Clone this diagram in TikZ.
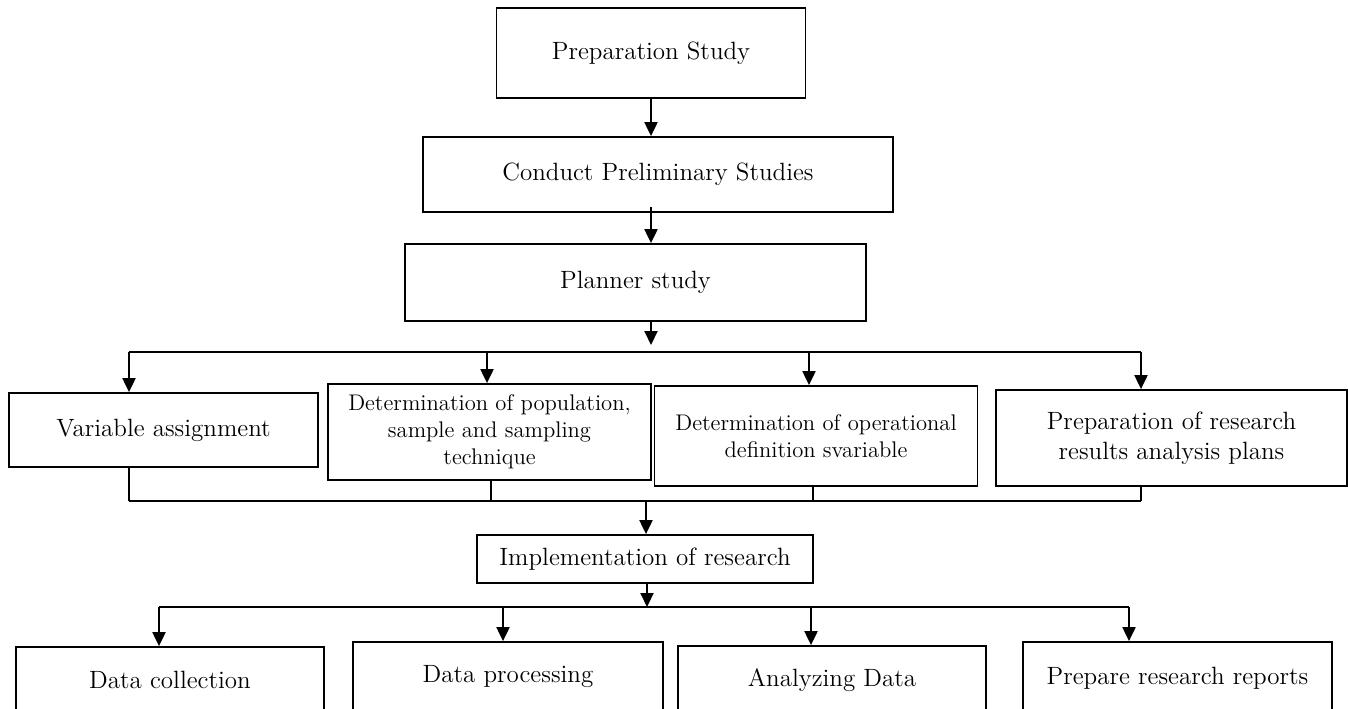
\documentclass[tikz,border=0pt]{standalone}
\usepackage{xcolor}
\usepackage{tikz}
\usetikzlibrary{arrows.meta,positioning,calc}
\tikzset{%
  stepBox/.style={%
    rectangle,
    draw=black,
    line width=0.9pt,
    inner sep=2pt,
    align=center,
    font=\fontsize{12.5}{15}\selectfont
  },
  smallText/.style={%
    font=\fontsize{11.3}{13.5}\selectfont
  },
  arrowLine/.style={%
    -{Triangle[length=7pt,width=6.5pt]},
    line width=1pt
  },
  joinLine/.style={%
    line width=1pt
  }
}

\begin{document}
\begin{tikzpicture}[x=0.5pt,y=-0.5pt]
  \clip (0,0) rectangle (1348,708);

  % main chain
  \node[stepBox, minimum width=154.5pt, minimum height=45pt] (prep) at (651,53) {Preparation Study};
  \node[stepBox, minimum width=235pt, minimum height=37.5pt] (conduct) at (658,174.5) {Conduct Preliminary Studies};
  \node[stepBox, minimum width=230.5pt, minimum height=38.5pt] (planner) at (635.5,282.5) {Planner study};

  % planning tasks
  \node[stepBox, minimum width=154.5pt, minimum height=37pt] (varAssign) at (163.5,430) {Variable assignment};
  \node[stepBox, smallText, minimum width=161.5pt, minimum height=48pt] (detPop) at (489.5,432) {Determination of population,\\ sample and sampling\\ technique};
  \node[stepBox, smallText, minimum width=161.5pt, minimum height=50pt] (detOp) at (816,436) {Determination of operational\\ definition svariable};
  \node[stepBox, minimum width=175.5pt, minimum height=48pt] (prepPlans) at (1171.5,438) {Preparation of research\\ results analysis plans};

  \node[stepBox, minimum width=168pt, minimum height=24pt] (impl) at (645,559) {Implementation of research};

  % last row
  \node[stepBox, minimum width=154pt, minimum height=33pt] (dataColl) at (170,680) {Data collection};
  \node[stepBox, minimum width=155pt, minimum height=35pt] (dataProc) at (508,677) {Data processing};
  \node[stepBox, minimum width=154pt, minimum height=34pt] (analyze) at (832,680) {Analyzing Data};
  \node[stepBox, minimum width=154.5pt, minimum height=36pt] (reports) at (1177.5,678) {Prepare research reports};

  \coordinate (splitTop) at (651,352);
  \coordinate (joinMid) at (646,501);
  \coordinate (splitLow) at (647,607);

  \draw[arrowLine] (prep.south) -- (prep.south |- conduct.north);
  \draw[arrowLine] ([yshift=3pt]prep.south |- conduct.south) -- (prep.south |- planner.north);
  \draw[arrowLine, shorten >=3.5pt] (splitTop |- planner.south) -- (splitTop);

  \draw[joinLine] (129,352) -- (1141,352);
  \foreach \xx/\nm in {129/varAssign, 487/detPop, 809/detOp, 1141/prepPlans}
    \draw[arrowLine] (\xx,352) -- (\xx,352 |- \nm.north);

  \foreach \xx/\nm in {129/varAssign, 491/detPop, 813/detOp, 1141/prepPlans}
    \draw[joinLine] (\xx,501 |- \nm.south) -- (\xx,501);
  \draw[joinLine] (129,501) -- (1141,501);
  \draw[arrowLine] (joinMid) -- (joinMid |- impl.north);

  \draw[arrowLine] (splitLow |- impl.south) -- (splitLow);
  \draw[joinLine] (159,607) -- (1129,607);
  \foreach \xx/\nm in {159/dataColl, 503/dataProc, 811/analyze, 1129/reports}
    \draw[arrowLine] (\xx,607) -- (\xx,607 |- \nm.north);
\end{tikzpicture}
\end{document}
